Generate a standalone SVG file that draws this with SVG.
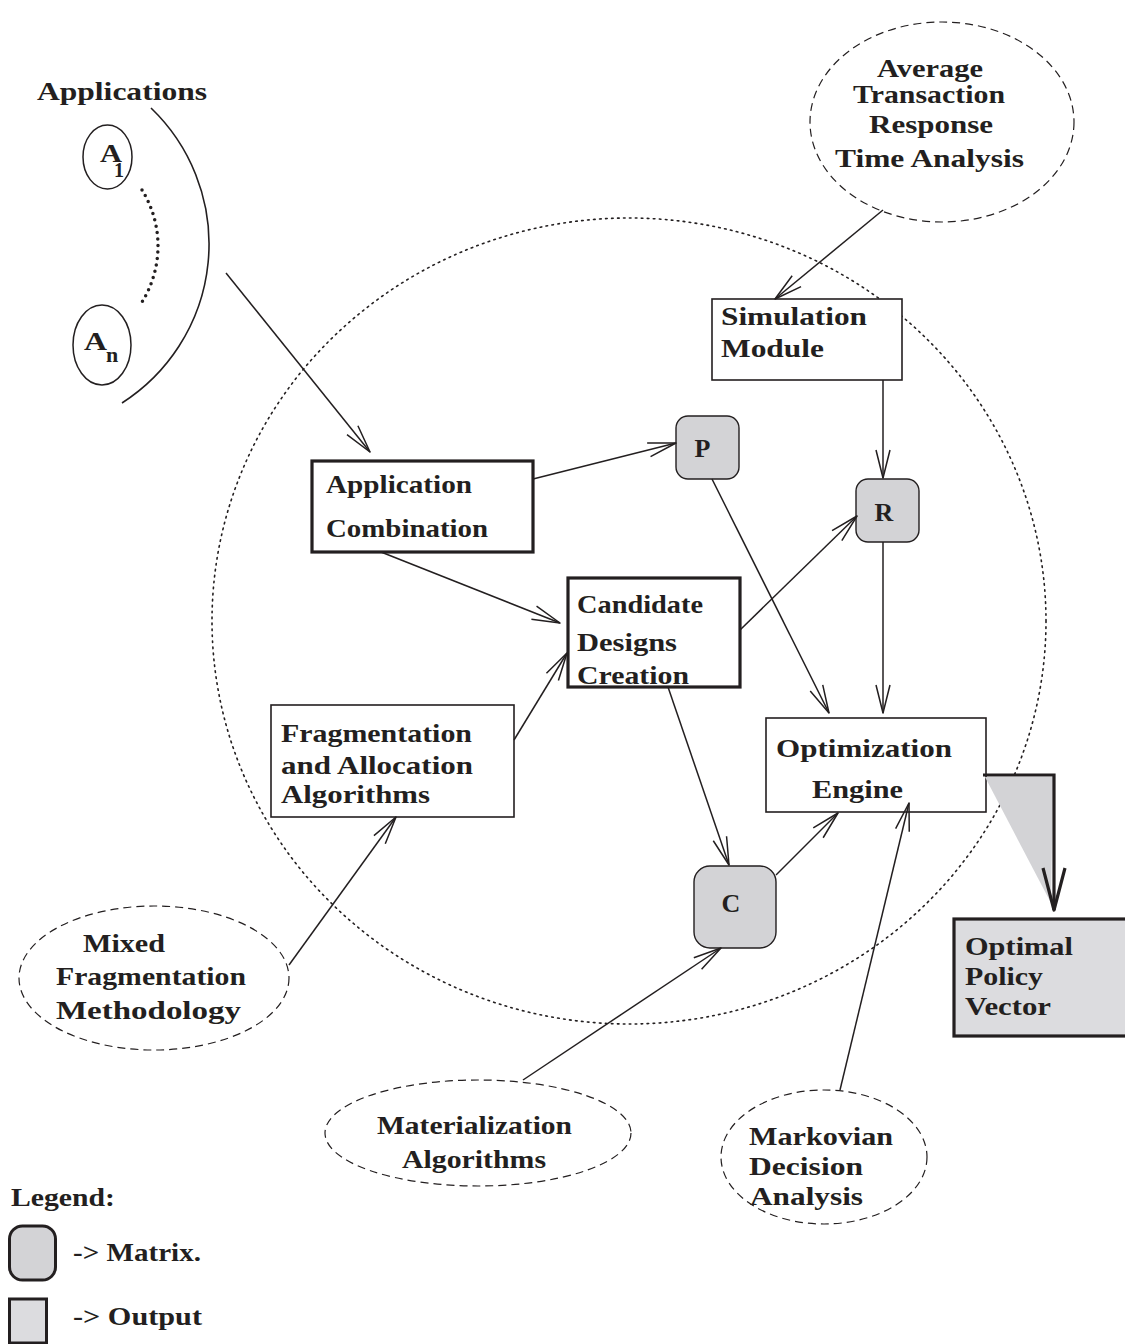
<svg xmlns="http://www.w3.org/2000/svg" width="1125" height="1344" viewBox="0 0 1125 1344">
  <style>
    .t { font-family: "Liberation Serif", "Times New Roman", serif; font-weight: bold; font-size: 26px; fill: #231f20; }
    .box { fill: #ffffff; stroke: #231f20; stroke-width: 1.6; }
    .boxb { fill: #ffffff; stroke: #231f20; stroke-width: 3.2; }
    .mat { fill: #d3d3d6; stroke: #231f20; stroke-width: 1.4; }
    .ext { fill: none; stroke: #231f20; stroke-width: 1.2; stroke-dasharray: 8 5; }
    .edge { fill: none; stroke: #231f20; stroke-width: 1.5; }
  </style>
  <defs>
    <marker id="vee" markerUnits="userSpaceOnUse" markerWidth="32" markerHeight="18" viewBox="-1 -9 32 18" refX="28" refY="0" orient="auto">
      <path d="M0,-7 L28,0 L0,7" fill="none" stroke="#231f20" stroke-width="1.5" stroke-linejoin="round"/>
    </marker>
  </defs>

  <rect width="1125" height="1344" fill="#ffffff"/>

  <!-- system boundary -->
  <ellipse id="boundary" cx="629" cy="621" rx="417" ry="403" fill="none" stroke="#231f20" stroke-width="1.6" stroke-dasharray="1.6 4.4" stroke-linecap="round"/>

  <!-- applications group -->
  <g id="applications">
    <text class="t" x="37" y="100" textLength="170" lengthAdjust="spacingAndGlyphs">Applications</text>
    <path d="M151,108 A188.6,188.6 0 0 1 122,403" fill="none" stroke="#231f20" stroke-width="1.6"/>
    <path d="M142,190 A106,106 0 0 1 142,302" fill="none" stroke="#231f20" stroke-width="3.5" stroke-linecap="round" stroke-dasharray="0 6.5"/>
  </g>
  <g id="app-a1">
    <ellipse cx="107.5" cy="157" rx="24.5" ry="32" fill="none" stroke="#231f20" stroke-width="1.5"/>
    <text class="t" x="100" y="162" textLength="22" lengthAdjust="spacingAndGlyphs">A</text>
    <text class="t" x="114" y="177" style="font-size:20px">1</text>
  </g>
  <g id="app-an">
    <ellipse cx="102" cy="345" rx="29" ry="40" fill="none" stroke="#231f20" stroke-width="1.5"/>
    <text class="t" x="84" y="350" textLength="23" lengthAdjust="spacingAndGlyphs">A</text>
    <text class="t" x="106" y="362" style="font-size:22px">n</text>
  </g>

  <!-- external analyses -->
  <g id="response-time">
    <ellipse class="ext" cx="942" cy="122" rx="132" ry="100"/>
    <text class="t" x="877" y="77" textLength="106" lengthAdjust="spacingAndGlyphs">Average</text>
    <text class="t" x="853" y="103" textLength="152" lengthAdjust="spacingAndGlyphs">Transaction</text>
    <text class="t" x="869" y="133" textLength="124" lengthAdjust="spacingAndGlyphs">Response</text>
    <text class="t" x="835" y="167" textLength="189" lengthAdjust="spacingAndGlyphs">Time Analysis</text>
  </g>
  <g id="mixed-fragmentation">
    <ellipse class="ext" cx="154" cy="978" rx="135" ry="72"/>
    <text class="t" x="83" y="952" textLength="82" lengthAdjust="spacingAndGlyphs">Mixed</text>
    <text class="t" x="56" y="985" textLength="190" lengthAdjust="spacingAndGlyphs">Fragmentation</text>
    <text class="t" x="56" y="1019" textLength="185" lengthAdjust="spacingAndGlyphs">Methodology</text>
  </g>
  <g id="materialization">
    <ellipse class="ext" cx="478" cy="1133" rx="153" ry="53"/>
    <text class="t" x="377" y="1134" textLength="195" lengthAdjust="spacingAndGlyphs">Materialization</text>
    <text class="t" x="402" y="1168" textLength="144" lengthAdjust="spacingAndGlyphs">Algorithms</text>
  </g>
  <g id="markovian">
    <ellipse class="ext" cx="824" cy="1157" rx="103" ry="67"/>
    <text class="t" x="749" y="1145" textLength="144" lengthAdjust="spacingAndGlyphs">Markovian</text>
    <text class="t" x="749" y="1175" textLength="114" lengthAdjust="spacingAndGlyphs">Decision</text>
    <text class="t" x="750" y="1205" textLength="113" lengthAdjust="spacingAndGlyphs">Analysis</text>
  </g>

  <!-- process boxes -->
  <g id="simulation-module">
    <rect class="box" x="712" y="299" width="190" height="81"/>
    <text class="t" x="721" y="325" textLength="146" lengthAdjust="spacingAndGlyphs">Simulation</text>
    <text class="t" x="721" y="357" textLength="103" lengthAdjust="spacingAndGlyphs">Module</text>
  </g>
  <g id="application-combination">
    <rect class="boxb" x="312" y="461" width="221" height="91"/>
    <text class="t" x="326" y="493" textLength="146" lengthAdjust="spacingAndGlyphs">Application</text>
    <text class="t" x="326" y="537" textLength="162" lengthAdjust="spacingAndGlyphs">Combination</text>
  </g>
  <g id="candidate-designs">
    <text class="t" x="577" y="613" textLength="126" lengthAdjust="spacingAndGlyphs">Candidate</text>
    <text class="t" x="577" y="651" textLength="100" lengthAdjust="spacingAndGlyphs">Designs</text>
    <text class="t" x="577" y="684" textLength="112" lengthAdjust="spacingAndGlyphs">Creation</text>
    <rect x="568" y="578" width="172" height="109" fill="none" stroke="#231f20" stroke-width="3.2"/>
  </g>
  <g id="fragmentation-allocation">
    <rect class="box" x="271" y="705" width="243" height="112"/>
    <text class="t" x="281" y="742" textLength="191" lengthAdjust="spacingAndGlyphs">Fragmentation</text>
    <text class="t" x="281" y="774" textLength="192" lengthAdjust="spacingAndGlyphs">and Allocation</text>
    <text class="t" x="281" y="803" textLength="149" lengthAdjust="spacingAndGlyphs">Algorithms</text>
  </g>
  <g id="optimization-engine">
    <rect class="box" x="766" y="718" width="220" height="94"/>
    <text class="t" x="776" y="757" textLength="176" lengthAdjust="spacingAndGlyphs">Optimization</text>
    <text class="t" x="812" y="798" textLength="91" lengthAdjust="spacingAndGlyphs">Engine</text>
  </g>

  <!-- matrices -->
  <g id="matrix-p">
    <rect class="mat" x="676" y="416" width="63" height="63" rx="12"/>
    <text class="t" x="702.5" y="457" text-anchor="middle">P</text>
  </g>
  <g id="matrix-r">
    <rect class="mat" x="856" y="479" width="63" height="63" rx="12"/>
    <text class="t" x="884" y="521" text-anchor="middle">R</text>
  </g>
  <g id="matrix-c">
    <rect class="mat" x="694" y="866" width="82" height="82" rx="16"/>
    <text class="t" x="731" y="912" text-anchor="middle">C</text>
  </g>

  <!-- output -->
  <g id="optimal-policy-vector">
    <rect x="954" y="919" width="175" height="117" fill="#dcdcdf" stroke="#231f20" stroke-width="3.2"/>
    <text class="t" x="965" y="955" textLength="108" lengthAdjust="spacingAndGlyphs">Optimal</text>
    <text class="t" x="965" y="985" textLength="78" lengthAdjust="spacingAndGlyphs">Policy</text>
    <text class="t" x="965" y="1015" textLength="86" lengthAdjust="spacingAndGlyphs">Vector</text>
  </g>

  <!-- connectors -->
  <g id="connectors">
    <line class="edge" x1="226" y1="273" x2="370" y2="452" marker-end="url(#vee)"/>
    <line class="edge" x1="533" y1="479" x2="676" y2="443" marker-end="url(#vee)"/>
    <line class="edge" x1="381" y1="552" x2="560" y2="623" marker-end="url(#vee)"/>
    <line class="edge" x1="514" y1="740" x2="567" y2="653" marker-end="url(#vee)"/>
    <line class="edge" x1="740" y1="630" x2="857" y2="516" marker-end="url(#vee)"/>
    <line class="edge" x1="668" y1="687" x2="729" y2="865" marker-end="url(#vee)"/>
    <line class="edge" x1="883" y1="210" x2="775" y2="299" marker-end="url(#vee)"/>
    <line class="edge" x1="883" y1="380" x2="883" y2="478" marker-end="url(#vee)"/>
    <line class="edge" x1="883" y1="542" x2="883" y2="713" marker-end="url(#vee)"/>
    <line class="edge" x1="712" y1="479" x2="829" y2="713" marker-end="url(#vee)"/>
    <line class="edge" x1="776" y1="875" x2="838" y2="813" marker-end="url(#vee)"/>
    <line class="edge" x1="840" y1="1090" x2="909" y2="803" marker-end="url(#vee)"/>
    <line class="edge" x1="523" y1="1080" x2="721" y2="948" marker-end="url(#vee)"/>
    <line class="edge" x1="289" y1="965" x2="396" y2="817" marker-end="url(#vee)"/>
    <!-- engine to output -->
    <polygon points="985,777 1053,777 1051,903" fill="#d3d3d6"/>
    <polyline points="983,775 1054,775 1054,910" fill="none" stroke="#231f20" stroke-width="3.2"/>
    <polyline points="1043,868 1054,910 1065,868" fill="none" stroke="#231f20" stroke-width="3.2" stroke-linejoin="round"/>
  </g>

  <!-- legend -->
  <g id="legend">
    <text class="t" x="11" y="1206" textLength="104" lengthAdjust="spacingAndGlyphs">Legend:</text>
    <rect x="9.5" y="1226" width="46" height="54" rx="13" fill="#d3d3d6" stroke="#231f20" stroke-width="3"/>
    <text class="t" x="73" y="1261" textLength="128" lengthAdjust="spacingAndGlyphs">-&gt; Matrix.</text>
    <rect x="9.5" y="1299" width="37" height="44" fill="#dcdcdf" stroke="#231f20" stroke-width="3"/>
    <text class="t" x="73" y="1325" textLength="129" lengthAdjust="spacingAndGlyphs">-&gt; Output</text>
  </g>
</svg>
